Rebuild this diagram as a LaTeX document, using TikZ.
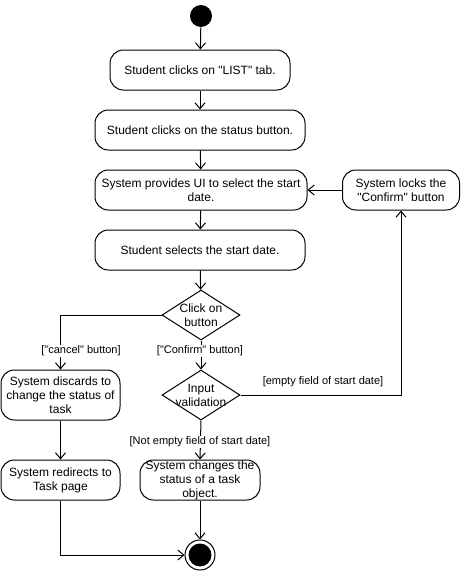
\documentclass[tikz,border=0pt]{standalone}
\usepackage{fontspec}
\setmainfont{Liberation Sans}[Ligatures=TeXOff]
\usetikzlibrary{shapes.geometric,arrows.meta}
\begin{document}
\begin{tikzpicture}[x=0.75pt,y=-0.75pt,
      line width=0.75pt,
      act/.style={draw,rounded corners=10pt,align=center,inner sep=0pt,
        minimum height=30pt,font=\fontsize{9}{10.5}\selectfont},
      choice/.style={draw,diamond,inner sep=0pt,minimum width=58.5pt,
        minimum height=37.5pt},
      choicetext/.style={align=center,inner sep=0pt,font=\fontsize{9}{10.5}\selectfont},
      guard/.style={fill=white,inner sep=1pt,font=\fontsize{8.25}{10}\selectfont},
      flow/.style={-{Straight Barb[length=4.5pt,width=7.5pt]}}]
      \useasboundingbox (0,0) rectangle (463,571);
      \path (201,16) node[circle,fill,minimum size=16.5pt,inner sep=0pt] (start) {};
      \path (200,70) node[act,minimum width=135pt] (list) {Student clicks on "LIST" tab.};
      \path (200,130) node[act,minimum width=157.5pt] (status) {Student clicks on the status button.};
      \path (201,190) node[act,minimum width=159pt] (ui) {System provides UI to select the start\\date.};
      \path (401,190) node[act,minimum width=87.75pt] (lock) {System locks the\\"Confirm" button};
      \path (200,250) node[act,minimum width=157.5pt] (select) {Student selects the start date.};
      \path (201,315) node[choice] (click) {};
      \path (click) node[choicetext] (clicktext) {Click on\\button};
      \path (201,395) node[choice] (valid) {};
      \path (valid) node[choicetext] (validtext) {Input\\validation};
      \path (60.5,395) node[act,minimum width=89.25pt,minimum height=37.5pt] (discard) {System discards to\\change the status of\\task};
      \path (60.5,480) node[act,minimum width=89.25pt] (redirect) {System redirects to\\Task page};
      \path (200,480) node[act,minimum width=90pt] (change) {System changes the\\status of a task\\object.};
      \path (200,555) node[circle,draw,minimum size=22.5pt,inner sep=0pt] (stop) {};
      \fill (stop.center) circle (8.6pt);
      \draw[flow] (start) -- (list);
      \draw[flow] (list) -- (status);
      \draw[flow] (status) -- (ui);
      \draw[flow] (ui) -- (select);
      \draw[flow] (select) -- (click);
      \draw[flow] (click.west) -| (discard.north);
      \draw[flow] (click.south) -- (valid.north);
      \draw[flow] (valid.east) -| (lock.south);
      \draw[flow] (lock.west) -- (ui.east);
      \draw[flow] (valid.south) -- (change.north);
      \draw[flow] (discard) -- (redirect);
      \draw[flow] (redirect.south) |- (stop.west);
      \draw[flow] (change) -- (stop);
      \path (81,351) node[guard] (cancellbl) {["cancel" button]};
      \path (200,351) node[guard] (confirmlbl) {["Confirm" button]};
      \path (323,382) node[guard] (emptylbl) {[empty field of start date]};
      \path (200,442) node[guard] (notemptylbl) {[Not empty field of start date]};
\end{tikzpicture}
\end{document}
